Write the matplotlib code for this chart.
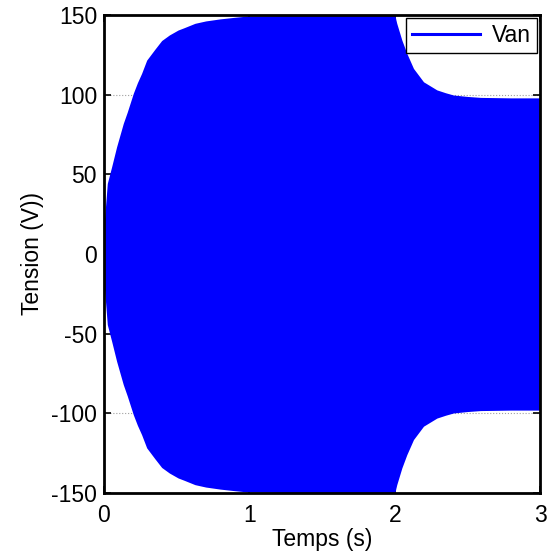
import numpy as np
import matplotlib.pyplot as plt
from matplotlib.lines import Line2D

plt.rcParams['font.family'] = ['Liberation Sans', 'DejaVu Sans']
plt.rcParams['font.size'] = 16.5
plt.rcParams['axes.unicode_minus'] = False

# enveloppe de la tension Van (amplitude crête, V) en fonction du temps (s)
t_env = [0.0, 0.007, 0.023, 0.053, 0.087, 0.133, 0.16, 0.202, 0.23, 0.259,
         0.294, 0.35, 0.397, 0.45, 0.51, 0.55, 0.626, 0.7, 0.8, 0.9,
         0.99, 1.3, 1.6, 1.998, 2.003, 2.014, 2.049, 2.083, 2.129, 2.198,
         2.29, 2.35, 2.404, 2.5, 2.59, 2.8, 3.0]
a_env = [18, 25.5, 44.3, 54.8, 67.3, 82, 89, 100.9, 107.5, 113.4,
         121.7, 128.5, 134, 137.5, 140.6, 142, 144.8, 146.3, 147.6, 148.6,
         149.4, 149.8, 150, 150, 149, 144.8, 134.3, 126, 116.5, 108.1,
         103, 101.2, 99.8, 98.9, 98.3, 98, 98]

x_ticks = [0, 1, 2, 3]
y_ticks = [-150, -100, -50, 0, 50, 100, 150]

t = np.array(t_env)
a = np.array(a_env)

fig = plt.figure(figsize=(5.5, 5.57), dpi=100)
ax = fig.add_axes([0.189, 0.115, 0.793, 0.858])

# signal trop dense : on trace la zone balayée par l'oscillation
ax.fill_between(t, -a, a, color='#0000ff', linewidth=0, zorder=2)

ax.set_xlim(0, 3)
ax.set_ylim(-150, 150)
ax.set_xticks(x_ticks)
ax.set_yticks(y_ticks)
ax.grid(True, linestyle=':', color='#a0a0a0', linewidth=0.8, zorder=0)
ax.set_axisbelow(True)

ax.tick_params(direction='in', length=5, width=1.2, top=True, right=True,
               labelsize=16.5)
ax.tick_params(axis='x', pad=8)
ax.tick_params(axis='y', pad=5)
for s in ax.spines.values():
    s.set_linewidth(2)
    s.set_zorder(5)

ax.set_xlabel('Temps (s)', labelpad=1)
ax.set_ylabel('Tension (V))', labelpad=5)

handle = Line2D([], [], color='#0000ff', linewidth=2.2)
leg = ax.legend([handle], ['Van'], loc='upper right', fancybox=False,
                framealpha=1, edgecolor='black', borderaxespad=0.15,
                handlelength=3.0, handletextpad=0.5, borderpad=0.25,
                fontsize=16.5)
leg.get_frame().set_linewidth(1.0)
leg.set_zorder(6)

plt.savefig('out.png', dpi=100)
